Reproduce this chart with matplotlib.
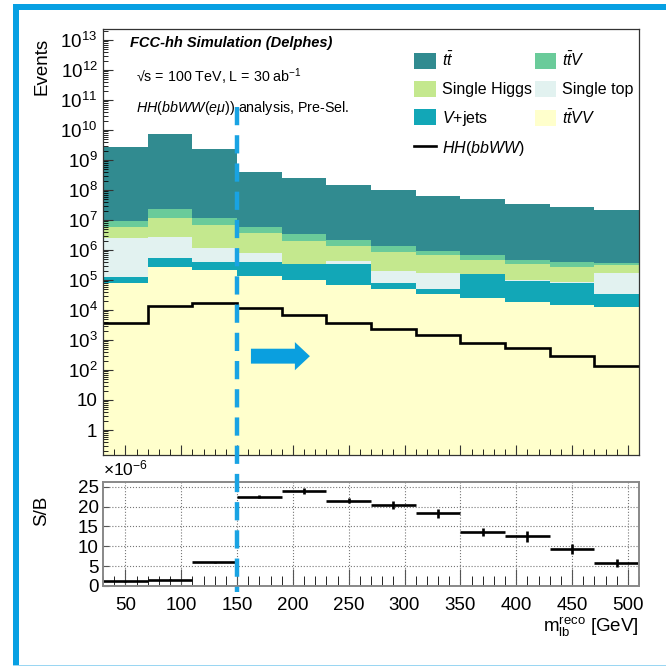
import numpy as np
import matplotlib
matplotlib.use("Agg")
from matplotlib import pyplot as plt
from matplotlib import transforms
from matplotlib.patches import Rectangle, FancyArrow
from matplotlib.lines import Line2D
from matplotlib.ticker import FixedLocator, MultipleLocator, LogLocator, FuncFormatter, NullFormatter

plt.rcParams['font.family'] = ['Liberation Sans', 'DejaVu Sans']
plt.rcParams['mathtext.fontset'] = 'custom'
plt.rcParams['mathtext.rm'] = 'Liberation Sans'
plt.rcParams['mathtext.it'] = 'Liberation Sans:italic'
plt.rcParams['mathtext.bf'] = 'Liberation Sans:bold'

# m_lb reco bins [GeV]
edges = [30, 70, 110, 150, 190, 230, 270, 310, 350, 390, 430, 470, 510]

# backgrounds, events per bin (stacked bottom -> top)
ttvv = [81000, 275000, 214000, 138000, 100000, 68000, 50000, 33000, 24500, 19000, 14800, 12300]
vjets = [48000, 275000, 175000, 251000, 239000, 271000, 27600, 16000, 133500, 76500, 66500, 21600]
single_top = [2.44e6, 2.2e6, 8.1e5, 3.87e5, 4e3, 8.8e4, 1.22e5, 1.25e5, 2e3, 1.1e3, 1e3, 1.32e5]
single_higgs = [3.46e6, 8.73e6, 5.72e6, 2.85e6, 1.57e6, 9.2e5, 6.5e5, 5.0e5, 3.2e5, 2.42e5, 1.93e5, 1.5e5]
ttv = [3.5e6, 1.19e7, 5.1e6, 2.4e6, 1.4e6, 7.9e5, 5.0e5, 2.8e5, 2.0e5, 1.3e5, 1.14e5, 6.4e4]
tt = [2.62e9, 7.39e9, 2.33e9, 4.01e8, 2.42e8, 1.43e8, 9.6e7, 6.07e7, 4.83e7, 3.34e7, 2.59e7, 2.05e7]

# signal
hh = [3800, 13500, 16600, 11500, 6600, 3800, 2340, 1480, 776, 525, 295, 138]

# S/B in units of 1e-6
sb = [1.2, 1.6, 6.0, 22.5, 24.0, 21.5, 20.5, 18.3, 13.6, 12.5, 9.3, 5.8]
sb_err = [0.1, 0.1, 0.15, 0.4, 0.8, 0.6, 1.0, 1.2, 1.1, 1.3, 1.3, 1.1]

stack = [(ttvv, '#ffffcc'), (vjets, '#12a7b7'), (single_top, '#e2f2f0'),
         (single_higgs, '#c4e88e'), (ttv, '#6acb9a'), (tt, '#318b90')]

edges = np.array(edges)
centers = (edges[:-1] + edges[1:]) / 2

fig = plt.figure(figsize=(6.66, 6.66), dpi=100)
W = H = 666.0
ax = fig.add_axes([103/W, 1-455/H, 536/W, 426/H])
ax2 = fig.add_axes([103/W, 1-586/H, 536/W, 104/H])

# stacked histograms
base = np.full(len(tt), 1e-3)
for vals, col in stack:
    top = base + np.array(vals)
    ax.stairs(top, edges, baseline=base, fill=True, color=col, lw=0)
    base = top
ax.stairs(hh, edges, baseline=None, color='k', lw=1.9)

ax.set_yscale('log')
ax.set_xlim(30, 510)
ax.set_ylim(0.147, 2.3e13)
ax.yaxis.set_major_locator(FixedLocator([10.0**i for i in range(14)]))
ax.yaxis.set_major_formatter(FuncFormatter(
    lambda v, p: '1' if v < 5 else ('10' if v < 50 else r'$10^{%d}$' % round(np.log10(v)))))
ax.yaxis.set_minor_locator(LogLocator(base=10, subs=np.arange(2, 10), numticks=30))
ax.yaxis.set_minor_formatter(NullFormatter())
ax.xaxis.set_major_locator(MultipleLocator(50))
ax.xaxis.set_minor_locator(MultipleLocator(10))
ax.tick_params(axis='x', which='both', direction='in', labelbottom=False)
ax.tick_params(axis='x', which='major', length=7)
ax.tick_params(axis='x', which='minor', length=4)
ax.tick_params(axis='y', which='major', direction='in', length=7, labelsize=13.5, pad=4)
ax.tick_params(axis='y', which='minor', direction='in', length=3.5)
ax.tick_params(colors='#333333', labelcolor='k')
for s in ax.spines.values():
    s.set_color('#333333')
    s.set_linewidth(0.9)

# texts
ax.text(0.05, 0.967, 'FCC-hh Simulation (Delphes)', transform=ax.transAxes,
        fontsize=10.5, fontweight='bold', style='italic', va='center')
ax.text(0.062, 0.887, '√s = 100 TeV, L = 30 ab$^{-1}$', transform=ax.transAxes,
        fontsize=10.3, va='center')
ax.text(0.062, 0.815, r'$HH(bbWW(e\mu))$ analysis, Pre-Sel.', transform=ax.transAxes,
        fontsize=10.3, va='center')

# legend
labels = [r'$t\bar{t}$', 'Single Higgs', r'$V$+jets', r'$HH(bbWW)$',
          r'$t\bar{t}V$', 'Single top', r'$t\bar{t}VV$']
handles = [Rectangle((0, 0), 1, 1, fc=stack[5][1], ec='none'),
           Rectangle((0, 0), 1, 1, fc=stack[3][1], ec='none'),
           Rectangle((0, 0), 1, 1, fc=stack[1][1], ec='none'),
           Line2D([], [], color='k', lw=1.9),
           Rectangle((0, 0), 1, 1, fc=stack[4][1], ec='none'),
           Rectangle((0, 0), 1, 1, fc=stack[2][1], ec='none'),
           Rectangle((0, 0), 1, 1, fc=stack[0][1], ec='none')]
ax.legend(handles, labels, ncol=2, loc='upper left', bbox_to_anchor=(0.581, 0.948),
          frameon=False, fontsize=11.5, handlelength=1.35, handleheight=1.15,
          handletextpad=0.35, columnspacing=0.2, labelspacing=0.72, borderpad=0,
          borderaxespad=0)

# arrow
ax.add_patch(FancyArrow(0.276, 0.232, 0.110, 0, width=0.035, head_width=0.066,
                        head_length=0.028, length_includes_head=True,
                        color='#0a9fdf', transform=ax.transAxes, lw=0))

# ratio panel
ax2.errorbar(centers, sb, xerr=20, yerr=sb_err, fmt='none', ecolor='k',
             elinewidth=1.9, capsize=0)
ax2.set_xlim(30, 510)
ax2.set_ylim(0, 26.2)
ax2.xaxis.set_major_locator(MultipleLocator(50))
ax2.xaxis.set_minor_locator(MultipleLocator(10))
ax2.yaxis.set_major_locator(MultipleLocator(5))
ax2.grid(True, which='major', color='#777777', linestyle=':', linewidth=0.8)
ax2.tick_params(axis='x', which='major', direction='in', length=12, labelsize=13.5, pad=8)
ax2.tick_params(axis='x', which='minor', direction='in', length=7)
ax2.tick_params(axis='y', which='major', direction='in', length=4, labelsize=13.5, pad=3)
ax2.tick_params(colors='#555555', labelcolor='k')
for s in ax2.spines.values():
    s.set_color('#888888')
    s.set_linewidth(1.4)
ax2.text(0.0, 1.03, r'$\times10^{-6}$', transform=ax2.transAxes, fontsize=12.5, va='bottom')

# axis titles
fig.text(42/W, 1-38/H, 'Events', rotation=90, ha='center', va='top', fontsize=13.5)
fig.text(42/W, 1-496/H, 'S/B', rotation=90, ha='center', va='top', fontsize=13.5)
fig.text(639/W, 1-627/H, r'm$_{\mathrm{lb}}^{\mathrm{reco}}$ [GeV]', ha='right', va='center',
         fontsize=13.5)

# dashed cut line at 150 GeV across both panels
trans = transforms.blended_transform_factory(ax.transData, fig.transFigure)
fig.add_artist(Line2D([150, 150], [1-107/H, 1-592/H], transform=trans, color='#19a3e3',
                      lw=3.2, linestyle=(0, (4.1, 2.25)), clip_on=False))

# blue frame
fig.add_artist(Rectangle((13/W, 0), 6/W, 1-4/H, transform=fig.transFigure,
                         color='#07a0e3', lw=0))
fig.add_artist(Rectangle((13/W, 1-10/H), 1, 6/H, transform=fig.transFigure,
                         color='#07a0e3', lw=0))
fig.add_artist(Rectangle((13/W, 0), 1, 1.5/H, transform=fig.transFigure,
                         color='#9ad6f2', lw=0))

fig.savefig('out.png', dpi=100)
